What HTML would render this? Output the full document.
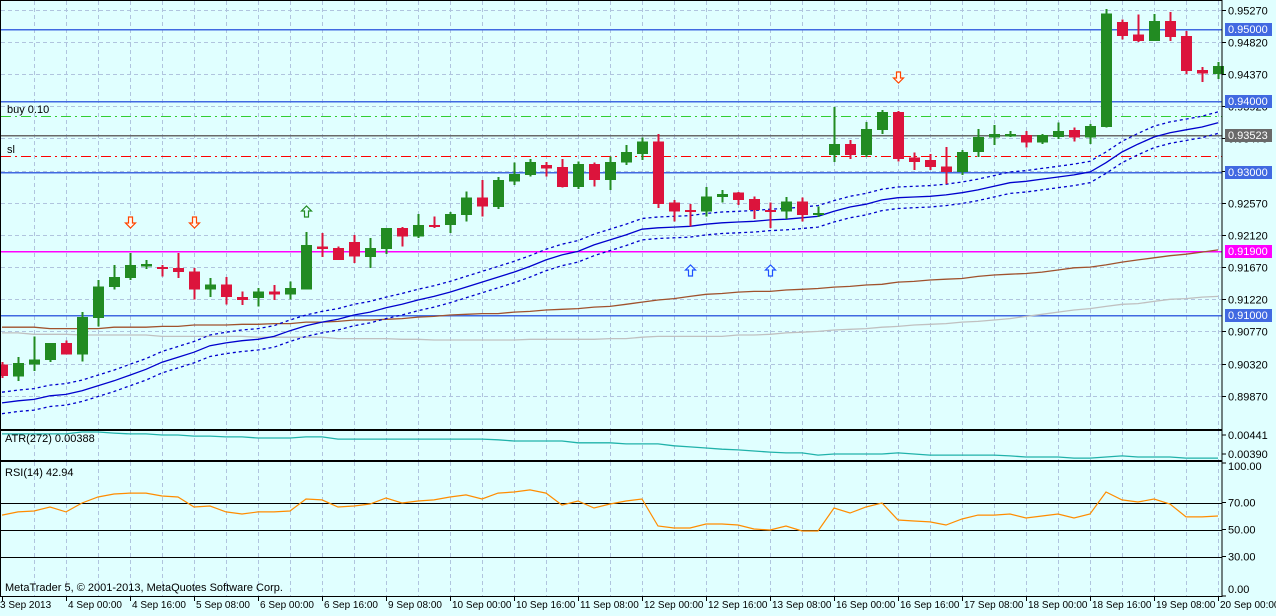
<!DOCTYPE html>
<html><head><meta charset="utf-8"><style>
html,body{margin:0;padding:0;background:#e0ffff;}
svg{display:block;font-family:"Liberation Sans",sans-serif;font-size:11px;}
.tl{font-size:10px;}
</style></head><body>
<svg id="chart" width="1276" height="616" viewBox="0 0 1276 616" xmlns="http://www.w3.org/2000/svg">
<rect x="0" y="0" width="1276" height="616" fill="#e0ffff"/>
<g id="grid" shape-rendering="crispEdges"></g>
<g id="levels" shape-rendering="crispEdges"></g>
<g id="mas"></g>
<g id="candles" shape-rendering="crispEdges"></g>
<g id="signals"></g>
<g id="atr"></g>
<g id="rsi"></g>
<g id="axes"></g>
</svg>
<script>
// OHLC in units of 0.0001
const ohlc = [
[9031,9034,9012,9015],[9014,9041,9008,9033],[9031,9070,9022,9038],[9037,9061,9034,9061],[9061,9064,9045,9045],
[9045,9104,9035,9097],[9096,9149,9084,9140],[9139,9170,9136,9153],[9152,9187,9149,9170],[9168,9177,9164,9171],
[9167,9170,9154,9164],[9166,9187,9152,9160],[9161,9166,9122,9136],[9136,9152,9125,9143],[9143,9153,9115,9125],
[9125,9133,9114,9121],[9124,9138,9112,9133],[9133,9142,9121,9129],[9129,9147,9122,9138],[9136,9216,9136,9198],
[9196,9215,9181,9192],[9194,9196,9177,9177],[9202,9212,9173,9182],[9181,9208,9166,9194],[9192,9222,9185,9222],
[9222,9223,9196,9210],[9210,9241,9208,9226],[9226,9238,9222,9224],[9226,9244,9215,9241],[9240,9273,9231,9264],
[9264,9289,9238,9252],[9251,9293,9248,9289],[9287,9313,9282,9297],[9296,9318,9294,9314],[9310,9314,9294,9305],
[9307,9318,9278,9279],[9279,9315,9276,9311],[9311,9313,9280,9289],[9289,9322,9275,9314],[9313,9338,9310,9328],
[9325,9348,9317,9343],[9343,9353,9250,9255],[9257,9261,9231,9245],[9247,9255,9224,9245],[9245,9279,9238,9266],
[9265,9275,9257,9269],[9271,9272,9254,9261],[9262,9266,9234,9247],[9247,9257,9222,9245],[9245,9265,9234,9259],
[9259,9264,9231,9240],[9240,9252,9237,9243],[9324,9391,9314,9339],[9339,9345,9318,9324],[9324,9370,9321,9360],
[9359,9387,9353,9384],[9384,9385,9315,9318],[9320,9327,9303,9314],[9317,9325,9303,9307],[9308,9335,9283,9300],
[9300,9331,9296,9328],[9328,9360,9321,9349],[9348,9366,9338,9353],[9350,9357,9349,9353],[9352,9357,9334,9341],
[9341,9353,9339,9352],[9349,9369,9346,9357],[9359,9362,9343,9348],[9348,9367,9339,9364],[9363,9528,9362,9522],
[9510,9513,9485,9490],[9492,9520,9482,9483],[9483,9521,9483,9511],[9511,9524,9483,9489],[9490,9497,9437,9441],
[9443,9447,9426,9438],[9437,9454,9430,9448]];
const bandMid = [8977,8980,8982,8987,8989,8994,9001,9008,9016,9024,9034,9041,9048,9057,9061,9064,9066,9070,9078,9085,
9090,9094,9100,9104,9110,9115,9121,9126,9132,9139,9146,9153,9160,9168,9177,9184,9189,9198,9205,9212,
9220,9222,9223,9224,9227,9229,9230,9231,9233,9234,9236,9238,9245,9251,9255,9261,9264,9265,9266,9268,
9271,9275,9280,9285,9287,9290,9293,9296,9300,9313,9328,9339,9349,9355,9359,9363,9369];
const bandDev = 15;
const maSlow = [9083,9083,9083,9081,9081,9081,9081,9083,9083,9083,9084,9084,9086,9086,9086,9087,9087,9088,9088,9090,
9090,9091,9093,9093,9094,9095,9097,9098,9100,9101,9102,9102,9104,9105,9107,9108,9109,9111,9112,9115,
9118,9121,9123,9126,9129,9130,9132,9133,9133,9135,9136,9137,9139,9140,9142,9143,9146,9147,9149,9150,
9151,9154,9156,9157,9158,9160,9163,9166,9167,9170,9174,9177,9180,9183,9185,9188,9191];
const maGray = [9075,9075,9073,9073,9073,9072,9072,9072,9072,9072,9070,9070,9070,9070,9070,9070,9069,9069,9069,9069,
9069,9067,9067,9067,9067,9066,9066,9065,9065,9065,9065,9065,9065,9066,9066,9066,9066,9066,9067,9067,
9069,9070,9070,9070,9070,9070,9072,9072,9073,9075,9076,9077,9079,9080,9081,9083,9084,9086,9087,9088,
9090,9091,9093,9095,9098,9101,9104,9107,9109,9112,9115,9116,9119,9122,9123,9125,9126];
// ATR in units of 0.00001
const atrVals = [444,444,444,444,444,449,449,446,444,444,441,441,438,438,436,436,433,433,433,436,
436,430,430,430,430,430,430,430,430,430,430,428,425,425,425,425,420,420,420,417,
417,417,412,409,406,403,401,398,395,393,393,387,390,390,390,390,393,390,387,387,
387,387,387,385,382,382,382,379,379,382,385,382,382,382,379,379,379];
const rsiVals = [60.7,63,63.7,66.7,63,69.6,74.1,76.3,77,77,74.8,74.1,66.7,67.4,63,61.5,63,63,63.7,72.6,
71.9,66.7,67.4,68.9,73.3,69.6,71.1,71.9,74.1,75.6,72.6,77,77.8,79.3,77,68.1,71.1,65.9,68.9,71.1,
72.6,52.6,51.1,51.1,54.1,54.1,53.3,50.4,49.6,52.6,48.9,48.9,65.9,62.2,66.7,69.6,57,56.3,55.6,53.3,
57.8,60.7,60.7,61.5,58.5,60,61.5,58.5,61.5,77.8,71.9,70.4,72.6,68.9,59.3,59.3,60];
const priceTicks = [0.95270,0.94820,0.94370,0.93920,0.93470,0.93020,0.92570,0.92120,0.91670,0.91220,0.90770,0.90320,0.89870];
const levelPrices = [0.95000,0.94000,0.93000,0.91000];
const timeLabels = ["3 Sep 2013","4 Sep 00:00","4 Sep 16:00","5 Sep 08:00","6 Sep 00:00","6 Sep 16:00","9 Sep 08:00","10 Sep 00:00","10 Sep 16:00","11 Sep 08:00","12 Sep 00:00","12 Sep 16:00","13 Sep 08:00","16 Sep 00:00","16 Sep 16:00","17 Sep 08:00","18 Sep 00:00","18 Sep 16:00","19 Sep 08:00","20 Sep 00:00"];
const rsiLevels = [70,50,30];
const rsiTicks = [100,70,50,30,0];
const atrTicks = [0.00441,0.00390];
const downSignals = [8,12,56];
const greenUpSignals = [19];
const blueUpSignals = [43,48];

const NS="http://www.w3.org/2000/svg";
const X = i => 2 + 16*i;
const Y = p => 29 + (0.95 - p)*7150;
const YA = v => 435 + (0.00441 - v)*37255;
const YR = v => 597 - v*1.35;
const RIGHT = 1222;
function mk(parent, tag, attrs){const e=document.createElementNS(NS,tag);for(const k in attrs)e.setAttribute(k,attrs[k]);document.getElementById(parent).appendChild(e);return e;}
function txt(parent, x,y,s,fill){const t=mk(parent,'text',{x:x,y:y,fill:fill||'#000'});t.textContent=s;return t;}

for(let i=2;i<77;i+=2){
  for(const seg of [[1,429],[431,460],[462,596]]){
    const l=mk('grid','line',{x1:X(i)+0.5,x2:X(i)+0.5,y1:seg[0],y2:seg[1],stroke:'#b0c4de','stroke-dasharray':'4,3'});
    
    
  }
}
priceTicks.forEach(p=>{
  const y=Math.round(Y(p))+0.5;
  const l=mk('grid','line',{x1:1,x2:RIGHT,y1:y,y2:y,stroke:'#b0c4de','stroke-dasharray':'4,3'});
  
  
});
levelPrices.forEach(p=>{
  const y=Math.round(Y(p))+0.5;
  const l=mk('levels','line',{x1:1,x2:RIGHT,y1:y,y2:y,stroke:'#4169e1','stroke-width':1.5});
  
  
});
{
 let l=mk('levels','line',{x1:1,x2:RIGHT,y1:Math.round(Y(0.93523))+0.5,y2:Math.round(Y(0.93523))+0.5,stroke:'#696969','stroke-width':1.5});
  
 l=mk('levels','line',{x1:1,x2:RIGHT,y1:Math.round(Y(0.919))+0.5,y2:Math.round(Y(0.919))+0.5,stroke:'#ff00ff','stroke-width':1.5});
  
 l=mk('levels','line',{x1:1,x2:RIGHT,y1:Math.round(Y(0.93783))+0.5,y2:Math.round(Y(0.93783))+0.5,stroke:'#32cd32','stroke-dasharray':'10,4,2,4'});
  
 l=mk('levels','line',{x1:1,x2:RIGHT,y1:Math.round(Y(0.93224))+0.5,y2:Math.round(Y(0.93224))+0.5,stroke:'#ff0000','stroke-dasharray':'10,4,2,4'});
  
 let t=txt('levels',7,Y(0.93783)-3,'buy 0.10');
  
 t=txt('levels',7,Y(0.93224)-3,'sl');
  
}
function poly(arr, off, color, dash, name){
  const pts=arr.map((v,i)=>X(i)+','+Y((v+off)/10000).toFixed(1)).join(' ');
  const a={points:pts,fill:'none',stroke:color,'stroke-width':1.3};
  if(dash)a['stroke-dasharray']=dash;
  const p=mk('mas','polyline',a);
  
  
}
poly(maGray,0,'#c0c0c0',null,'ma-gray');
poly(maSlow,0,'#a0522d',null,'ma-brown');
poly(bandMid,bandDev,'#0000cd','3,3','band-upper');
poly(bandMid,-bandDev,'#0000cd','3,3','band-lower');
poly(bandMid,0,'#0000cd',null,'band-middle');
ohlc.forEach((c,i)=>{
  const [o,h,l,cl]=c.map(v=>v/10000);
  const up=cl>=o, col=up?'#228b22':'#dc143c';
  const x=X(i);
  const w=mk('candles','rect',{x:x-0.5,y:Y(h),width:2,height:Y(l)-Y(h),fill:col});
  
  
  const top=Y(Math.max(o,cl)), bot=Y(Math.min(o,cl));
  const b=mk('candles','rect',{x:x-5,y:top,width:11,height:Math.max(2,bot-top),fill:col});
  
  
});
function arrow(i,y,down,stroke,fill,name){
  const x=X(i)+0.5;
  const d=down?`M${x-2},${y} h4 v6 h3 l-5,5 l-5,-5 h3 z`:`M${x-2},${y+11} h4 v-6 h3 l-5,-5 l-5,5 h3 z`;
  const p=mk('signals','path',{d:d,fill:fill,stroke:stroke,'stroke-width':1.2});
  
  
}
downSignals.forEach(i=>arrow(i,ohlc[i][1]/10000>0.938?72:217,true,'#ff4500','#fff8f0','sell-signal'));
greenUpSignals.forEach(i=>arrow(i,206,false,'#228b22','#e0ffff','buy-signal'));
blueUpSignals.forEach(i=>arrow(i,265,false,'#1e50ff','#e0ffff','buy-signal-blue'));
{
 const pts=atrVals.map((v,i)=>X(i)+','+YA(v/100000).toFixed(1)).join(' ');
 const p=mk('atr','polyline',{points:pts,fill:'none',stroke:'#20b2aa','stroke-width':1.3});
  
 const t=txt('atr',5,442,'ATR(272) 0.00388');
  
 atrTicks.forEach(v=>{
  const y=YA(v);
  const tk=mk('atr','line',{x1:RIGHT,x2:RIGHT+4,y1:y,y2:y,stroke:'#000'});
   
  const tt=txt('atr',RIGHT+6,y+4,v.toFixed(5));
   
 });
}
{
 rsiLevels.forEach(v=>{
  const y=Math.round(YR(v))+0.5;
  const l=mk('rsi','line',{x1:1,x2:RIGHT,y1:y,y2:y,stroke:'#000'});
   
 });
 const pts=rsiVals.map((v,i)=>X(i)+','+YR(v).toFixed(1)).join(' ');
 const p=mk('rsi','polyline',{points:pts,fill:'none',stroke:'#ff8c00','stroke-width':1.2});
  
 const t=txt('rsi',5,476,'RSI(14) 42.94');
  
 rsiTicks.forEach(v=>{
  const y=YR(v);
  const ly=v===100?y+8:(v===0?y-4:y+4);
  const ty=v===100?y+1:(v===0?y-1:y);
  const tk=mk('rsi','line',{x1:RIGHT,x2:RIGHT+4,y1:ty,y2:ty,stroke:'#000'});
   
  const tt=txt('rsi',RIGHT+6,ly,v.toFixed(2));
   
 });
 const c=txt('rsi',5,591,'MetaTrader 5, © 2001-2013, MetaQuotes Software Corp.');
  
}
[[1,1,429],[1,431,460],[1,462,596]].forEach(b=>{
  const r=mk('axes','rect',{x:0.5,y:b[1]-0.5,width:RIGHT-0.5,height:b[2]-b[1]+1,fill:'none',stroke:'#000'});
  
  
});
priceTicks.forEach(p=>{
  const y=Math.round(Y(p))+0.5;
  const tk=mk('axes','line',{x1:RIGHT,x2:RIGHT+4,y1:y,y2:y,stroke:'#000'});
   
  const t=txt('axes',RIGHT+6,y+4,p.toFixed(5));
   
});
function badge(p,color,name){
  const y=Math.round(Y(p));
  const r=mk('axes','rect',{x:RIGHT+3,y:y-6,width:47,height:13,fill:color});
   
  const t=txt('axes',RIGHT+6,y+4,p.toFixed(5),'#fff');
   
}
levelPrices.forEach(p=>badge(p,'#4169e1','level-badge'));
badge(0.93523,'#696969','bid-badge');
badge(0.91900,'#ff00ff','alert-badge');
timeLabels.forEach((s,k)=>{
  const x=X(k*4);
  const tk=mk('axes','line',{x1:x+0.5,x2:x+0.5,y1:596,y2:601,stroke:'#000'});
   
  const t=txt('axes',k===0?0:x+2,608,s);
  t.setAttribute('class','tl');
   
});
</script>
</body></html>
